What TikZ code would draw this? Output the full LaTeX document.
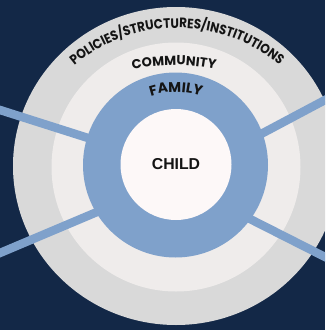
\documentclass[tikz,border=0pt]{standalone}
\usepackage{fontspec}
\newfontfamily\arcfont{Poppins}
\newfontfamily\arcnarrow{Poppins}[FakeStretch=0.88]
\newfontfamily\childfont{Liberation Sans}
\usetikzlibrary{decorations.text,shapes.geometric}
\definecolor{navy}{HTML}{132847}
\definecolor{ringgray}{HTML}{D9D9D9}
\definecolor{ringlight}{HTML}{EFECEB}
\definecolor{famblue}{HTML}{7FA1CB}
\definecolor{childwhite}{HTML}{FDF8F8}
\definecolor{ink}{HTML}{141414}
\begin{document}
\begin{tikzpicture}[x=1pt,y=-1pt,
  ring/.style={inner sep=0pt, outer sep=0pt, draw=none},
  spoke/.style={draw=famblue, line width=8.5pt},
  arctext/.style={decorate, decoration={text along path, text align=center, text color=ink, text={#1}}}]
\fill[navy] (0,0) rectangle (325,330);
\useasboundingbox (0,0) rectangle (325,330);
\begin{scope}
\clip (0,0) rectangle (325,330);
\node[ring, ellipse, fill=ringgray, minimum width=326pt, minimum height=318pt] (policies) at (176,166) {};
\node[ring, circle, fill=ringlight, minimum size=249pt] (community) at (176,167) {};
\coordinate (ul) at (-10,106.8);
\coordinate (uli) at (100,141.8);
\coordinate (ll) at (-10,257.2);
\coordinate (lli) at (110,206.5);
\coordinate (ur) at (335,94.7);
\coordinate (uri) at (250,139.9);
\coordinate (lr) at (335,262);
\coordinate (lri) at (240,213.9);
\draw[spoke] (ul) -- (uli);
\draw[spoke] (ll) -- (lli);
\draw[spoke] (ur) -- (uri);
\draw[spoke] (lr) -- (lri);
\end{scope}
\node[ring, circle, fill=famblue, minimum size=185pt] (family) at (175.5,165) {};
\node[ring, circle, fill=childwhite, minimum size=111pt, text=ink,
      font=\childfont\bfseries\fontsize{15.8}{15.8}\selectfont] (child) at (176,164.5) {CHILD};
\path[arctext={|\arcnarrow\bfseries\fontsize{13.6}{13.6}\selectfont|POLICIES/STRUCTURES/INSTITUTIONS}]
  ([shift={(177,188)}]210:160) arc[start angle=210, end angle=330, radius=160];
\path[arctext={|\arcfont\bfseries\fontsize{13}{13}\selectfont|COMMUNITY}]
  ([shift={(174,265)}]245:200) arc[start angle=245, end angle=295, radius=200];
\path[arctext={|\arcfont\bfseries\fontsize{14}{14}\selectfont|FAMILY}]
  ([shift={(176,170)}]225:78) arc[start angle=225, end angle=315, radius=78];
\end{tikzpicture}
\end{document}
